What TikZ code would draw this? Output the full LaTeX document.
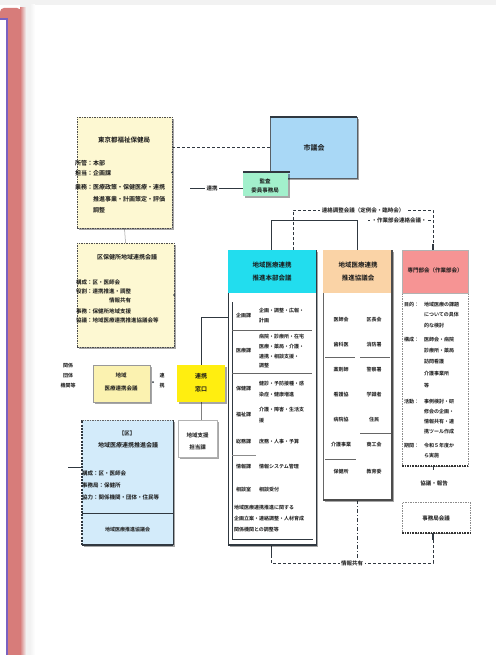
\documentclass[tikz,border=0pt]{standalone}
\usepackage{fontspec}
\newfontfamily\jp{Noto Sans CJK JP}[BoldFont={Noto Sans CJK JP Bold}]
\usetikzlibrary{shadows}
\pgfdeclarelayer{bg}
\pgfsetlayers{bg,main}
\definecolor{ypale}{HTML}{FDF8D2}
\definecolor{bluebox}{HTML}{A9D8F6}
\definecolor{greenbox}{HTML}{A2F0CC}
\definecolor{cyanhead}{HTML}{22DDEE}
\definecolor{orahead}{HTML}{FAD3A6}
\definecolor{redhead}{HTML}{F69494}
\definecolor{lblue}{HTML}{D3EBFA}
\definecolor{yel}{HTML}{FFEE10}
\definecolor{ylite}{HTML}{FBF2B0}
\definecolor{pinkband}{HTML}{D77C7A}
\definecolor{purp}{HTML}{7A62C0}
\definecolor{linec}{HTML}{303840}
\newcommand\fs[1]{\fontsize{#1}{#1}\selectfont\bfseries}
\newcommand\mkbox[6]{\node[#2, minimum width={(#5)-(#3)}, minimum height={(#6)-(#4)}] (#1) at ({((#3)+(#5))/2},{((#4)+(#6))/2}) {};}
\tikzset{
 every node/.style={font=\jp\fs{5.5}, inner sep=0pt, outer sep=0pt, text=black!90},
 ln/.style={draw=linec, line width=0.5pt},
 dsh/.style={ln, dash pattern=on 3pt off 2pt},
 sh/.style={drop shadow={shadow xshift=2pt, shadow yshift=-2pt, opacity=.35, fill=black}},
 ybox/.style={draw=black!70, line width=.8pt, dash pattern=on 1.5pt off 1pt, fill=ypale, sh},
 bbox/.style={draw=linec!80, line width=.6pt, fill=bluebox, sh},
 gbox/.style={fill=greenbox, sh},
 ylbox/.style={draw=black!40, line width=.5pt, fill=ylite, sh},
 yebox/.style={fill=yel, sh},
 wbox/.style={draw=black!30, line width=.5pt, fill=white, sh},
 lbbox/.style={fill=lblue, sh},
 cbody/.style={draw=linec, line width=.8pt, fill=white, sh},
 chead/.style={fill=cyanhead},
 obody/.style={draw=black!60, line width=.8pt, fill=white, sh},
 ohead/.style={fill=orahead},
 rbody/.style={draw=black!45, line width=.5pt, dash pattern=on 1.5pt off 1pt, fill=white},
 rhead/.style={draw=black!30, line width=.4pt, fill=redhead},
 thickdash/.style={draw=black!80, line width=1.3pt, dash pattern=on 1.6pt off 1pt},
 lab/.style={anchor=west},
 wl/.style={fill=white, inner xsep=1.5pt, inner ysep=1pt},
}
\begin{document}
\begin{tikzpicture}[x=1pt,y=-1pt]
\useasboundingbox (0,0) rectangle (496,655);
\begin{pgfonlayer}{bg}
\fill[white] (0,0) rectangle (496,655);
\fill[gray!10] (0,0) rectangle (496,5);
\fill[gray!10] (20,0) rectangle (31,655);
\shade[left color=gray!10, right color=white] (30,5) rectangle (35,655);
\fill[pinkband, rounded corners=4pt] (0,665) -- (0,8) -- (21,8) -- (21,665) -- cycle;
\shade[left color=pinkband, right color=gray!10] (20,8) rectangle (26,655);
\fill[white] (0,19) rectangle (7,655);
\draw[purp, line width=1.2pt] (0,19) -- (7,19) -- (7,656);
\end{pgfonlayer}

% ---------- boxes ----------
\mkbox{Y1}{ybox}{77}{117}{172}{228}
\mkbox{Y2}{ybox}{77}{243}{174}{347}
\mkbox{B}{bbox}{270}{117}{357}{178}
\draw[linec, line width=1.4pt] (B.north west) -- (B.north east);
\mkbox{G}{gbox}{243}{172}{288}{196}
\draw[linec, line width=1.2pt] (G.north west) -- ++(47,0);
\mkbox{Y3}{ylbox}{93}{365}{150}{402}
\mkbox{Y4}{yebox}{177}{365}{225}{402}
\mkbox{W}{wbox}{178}{420}{217}{457}
\mkbox{LB}{lbbox}{82}{420}{173}{545}
\draw[linec, line width=1.3pt, dash pattern=on 2pt off 1.2pt] (LB.south west) -- (LB.north west);
\draw[black!60, line width=.6pt, dash pattern=on 1.5pt off 1pt] (LB.north west) -- (LB.north east);
\draw[linec, line width=.7pt] (LB.north east) -- (LB.south east);
\draw[linec, line width=1.2pt] (LB.south east) -- (LB.south west);
\draw[linec, line width=.5pt] (82,513) -- (173,513);
\mkbox{C}{cbody}{228}{250}{316}{545}
\mkbox{Ch}{chead}{228}{250}{316}{293}
\draw[linec, line width=1.6pt] (C.south west) -- (C.south east);
\draw[linec, line width=.5pt] (232,302) -- (232,539) -- (313,539);
\draw[black!60, line width=.4pt] (232,330) -- (312,330);
\draw[black!60, line width=.4pt] (232,373) -- (312,373);
\draw[black!45, line width=.4pt] (232,455) -- (256,455);
\mkbox{O}{obody}{323}{250}{392}{500}
\mkbox{Oh}{ohead}{323}{250}{392}{293}
\draw[black!70, line width=1.2pt] (O.north east) -- (O.south east) -- (O.south west);
\draw[black!60, line width=.5pt] (325,357) -- (355,357);
\draw[black!60, line width=.5pt] (360,357) -- (390,357);
\draw[black!60, line width=.5pt] (360,433) -- (391,433);
\draw[black!60, line width=.5pt] (325,459) -- (356,459);
\mkbox{R}{rbody}{402}{293}{468}{466}
\mkbox{Rh}{rhead}{402}{250}{468}{293}
\draw[thickdash] (R.south west) -- (R.south east);
\mkbox{D}{rbody}{402}{502}{470}{533}
\draw[thickdash] (D.south west) -- (D.south east);

% ---------- connectors ----------
\begin{pgfonlayer}{bg}
\draw[dsh] (Y1.east |- B.west) -- (B.west);
\coordinate (rk) at (190,188);
\draw[ln] (rk) -- (G.west |- rk);
\draw[ln, black!40] (Y1.south) -- (Y2.north);
\coordinate (br1) at (271,220);
\coordinate (br2) at (357,220);
\draw[ln] (Ch.north -| br1) -- (br1) -- (br2) -- (Oh.north -| br2);
\coordinate (tp1) at (293,210);
\coordinate (tp2) at (433,210);
\draw[dsh] (Ch.north -| tp1) -- (tp1) -- (tp2) -- (Rh.north -| tp2);
\coordinate (tq1) at (368,220);
\draw[dsh] (tq1) -- (tp2 |- tq1);
\coordinate (lc) at (201,317);
\draw[ln] (C.west |- lc) -- (lc) -- (Y4.north -| lc);
\draw[ln, black!50] (Y4.south -| lc) -- (W.north -| lc);
\coordinate (lbl) at (68,467);
\draw[ln] (lbl) -- (LB.west |- lbl);
\coordinate (b1) at (271,563);
\coordinate (b2) at (433,563);
\draw[linec, line width=.8pt] (C.south -| b1) -- (271,555);
\draw[dsh] (271,555) -- (b1) -- (b2) -- (D.south -| b2);
\draw[ln, line width=.8pt, dash pattern=on 4pt off 2pt on 1pt off 2pt] (O.south -| br2) -- (b1 -| br2);
\end{pgfonlayer}
\draw[linec, line width=1.5pt] (Rh.north -| tp2) -- ++(0,-6);
\draw[linec, line width=1.5pt] (D.south -| b2) -- ++(0,7);
\draw[ln] (R.south -| tp2) -- ++(0,4);
\fill[linec] (Y1.west) circle (1pt);
\fill[linec] (Y1.east) circle (1pt);
\fill[linec] (Y2.east) circle (1pt);
\fill[linec] (153,382) circle (1pt);

% ---------- labels ----------
\node[wl] (rkl) at (212,188) {連携};
\node[wl, font=\jp\fs{5.5}] (tpt) at (363,210) {連絡調整会議（定例会・臨時会）};
\node[wl, font=\jp\fs{5.5}] (tqt) at (399,220) {・作業部会連絡会議・};
\node[wl, font=\jp\fs{5.5}] (bt) at (352,563) {情報共有};

% Y1
\node[font=\jp\fs{6.5}] (y1t) at (124,140) {東京都福祉保健局};
\foreach \t/\yy [count=\i] in {所管：本部/163, 担当：企画課/173, 業務：医療政策・保健医療・連携/187, 　　　推進事業・計画策定・評価/199, 　　　調整/210}
  \node[lab, font=\jp\fs{6}] (y1l\i) at (75,\yy) {\t};
% Y2
\node[font=\jp\fs{6}] (y2t) at (127,257) {区保健所地域連携会議};
\foreach \t/\yy [count=\i] in {構成：区・医師会/282, 役割：連携推進・調整/291, 　　　　　　情報共有/300, 事務：保健所地域支援/311, 協議：地域医療連携推進協議会等/320}
  \node[lab, font=\jp\fs{5.5}] (y2l\i) at (76,\yy) {\t};
% B, G
\node[font=\jp\fs{7}] (bt1) at (314,148) {市議会};
\node[font=\jp\fs{5.5}] (gt1) at (265,181) {監査};
\node[font=\jp\fs{5.5}] (gt2) at (265,190) {委員事務局};
% left small text
\node[font=\jp\fs{5}] (lt1) at (68,366) {関係};
\node[font=\jp\fs{5}] (lt2) at (68,376) {団体};
\node[font=\jp\fs{5}] (lt3) at (68,386) {機関等};
% Y3, Y4, W
\node[font=\jp\fs{5.5}] (y3a) at (121,375) {地域};
\node[font=\jp\fs{5.5}] (y3b) at (121,388) {医療連携会議};
\node[font=\jp\fs{5}] (rka) at (162,376) {連};
\node[font=\jp\fs{5}] (rkb) at (162,386) {携};
\node[font=\jp\fs{6}] (y4a) at (201,376) {連携};
\node[font=\jp\fs{6}] (y4b) at (201,389) {窓口};
\node[font=\jp\fs{5.5}] (wa) at (197.5,435) {地域支援};
\node[font=\jp\fs{5.5}] (wb) at (197.5,447) {担当課};
% LB
\node[font=\jp\fs{5.5}] (lba) at (127,433) {【区】};
\node[font=\jp\fs{6}] (lbb) at (128,445) {地域医療連携推進会議};
\node[lab] (lbc) at (82,473) {構成：区・医師会};
\node[lab] (lbd) at (82,485) {事務局：保健所};
\node[lab] (lbe) at (82,497) {協力：関係機関・団体・住民等};
\node[font=\jp\fs{5}] (lbf) at (127.5,530) {地域医療推進協議会};
% C
\node[font=\jp\fs{6.5}] (cha) at (272,265) {地域医療連携};
\node[font=\jp\fs{6.5}] (chb) at (272,278) {推進本部会議};
\foreach \t/\yy [count=\i] in {企画課/316, 医療課/351, 保健課/389, 福祉課/415, 総務課/442, 情報課/467, 相談室/490}
  \node[lab, font=\jp\fs{5}] (cl\i) at (236,\yy) {\t};
\foreach \t/\yy [count=\i] in {企画・調整・広報・/311, 計画/321, 病院・診療所・在宅/337, 医療・薬局・介護・/347, 連携・相談支援・/357, 調整/366, 健診・予防接種・感/384, 染症・健康増進/395, 介護・障害・生活支/410, 援/421, 庶務・人事・予算/442, 情報システム管理/467, 相談受付/490}
  \node[lab, font=\jp\fs{5}] (cd\i) at (259,\yy) {\t};
\foreach \t/\yy [count=\i] in {地域医療連携推進に関する/508, 企画立案・連絡調整・人材育成/519, 関係機関との調整等/530}
  \node[lab, font=\jp\fs{5}] (cb\i) at (234,\yy) {\t};
% O
\node[font=\jp\fs{6.5}] (oha) at (358,265) {地域医療連携};
\node[font=\jp\fs{6.5}] (ohb) at (358,278) {推進協議会};
\foreach \t/\u/\yy [count=\i] in {医師会/区長会/320, 歯科医/消防署/345, 薬剤師/警察署/370, 看護協/学識者/395, 病院協/住民/420, 介護事業/商工会/445, 保健所/教育委/472}
  {\node[font=\jp\fs{5}] (ol\i) at (341,\yy) {\t};
   \node[font=\jp\fs{5}] (or\i) at (374,\yy) {\u};}
% R
\node[font=\jp\fs{5.5}] (rha) at (435,270) {専門部会（作業部会）};
\foreach \t/\yy [count=\i] in {目的：/305, 構成：/340, 活動：/402, 期間：/446}
  \node[lab, font=\jp\fs{5}] (rl\i) at (404,\yy) {\t};
\foreach \t/\yy [count=\i] in {地域医療の課題/305, についての具体/315, 的な検討/326, 医師会・病院/340, 診療所・薬局/351, 訪問看護/362, 介護事業所/374, 等/386, 事例検討・研/402, 修会の企画・/412, 情報共有・連/422, 携ツール作成/432, 令和５年度か/446, ら実施/456}
  \node[lab, font=\jp\fs{5}] (rd\i) at (424,\yy) {\t};
\node[font=\jp\fs{5.5}] (rr) at (434,483) {協議・報告};
\node[font=\jp\fs{5.5}] (dt) at (436,518) {事務局会議};
\end{tikzpicture}
\end{document}
